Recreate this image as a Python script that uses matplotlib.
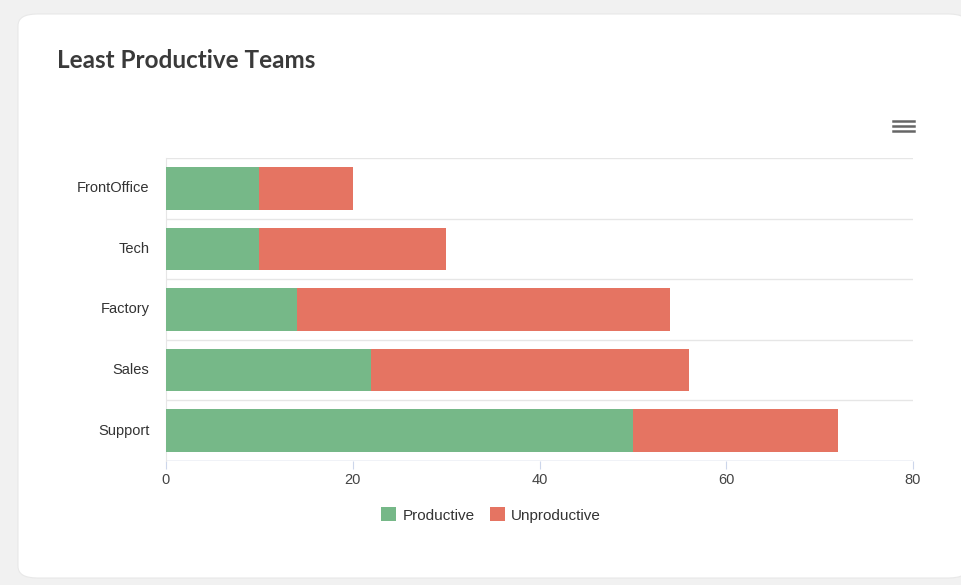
import matplotlib
matplotlib.use("Agg")
import matplotlib.pyplot as plt
from matplotlib.patches import FancyBboxPatch, Patch

# data
teams = ["FrontOffice", "Tech", "Factory", "Sales", "Support"]
productive = [10, 10, 14, 22, 50]
unproductive = [10, 20, 40, 34, 22]
xticks = [0, 20, 40, 60, 80]

green = "#76b888"
red = "#e57462"
text_col = "#333333"
grid_col = "#e6e6e6"

plt.rcParams["font.family"] = ["Liberation Sans", "DejaVu Sans"]

fig = plt.figure(figsize=(9.62, 5.85), dpi=100)
fig.patch.set_facecolor("#f1f1f1")

# white card behind everything
card = FancyBboxPatch((18 / 962, 7 / 585), 950 / 962, 564 / 585,
                      boxstyle="round,pad=0,rounding_size=0.02",
                      transform=fig.transFigure, facecolor="white",
                      edgecolor="#e8e8e8", linewidth=0.8, zorder=-5)
fig.patches.append(card)

ax = fig.add_axes([166 / 962, 1 - 461 / 585, (913 - 166) / 962, (461 - 158) / 585])
ax.set_facecolor("none")
ax.set_zorder(2)

y = list(range(len(teams)))
ax.barh(y, productive, height=0.7, color=green, label="Productive", zorder=3)
ax.barh(y, unproductive, left=productive, height=0.7, color=red,
        label="Unproductive", zorder=3)

ax.set_ylim(len(teams) - 0.5, -0.5)
ax.set_xlim(0, 80)
ax.set_xticks(xticks)
ax.set_yticks(y)
ax.set_yticklabels(teams)

# horizontal separators between categories
for b in [i - 0.5 for i in range(len(teams) + 1)]:
    ax.axhline(b, color=grid_col, linewidth=1, zorder=1)

for s in ["top", "right", "bottom"]:
    ax.spines[s].set_visible(False)
ax.spines["left"].set_color(grid_col)
ax.axhline(len(teams) - 0.5, color="#ccd6eb", linewidth=1, zorder=2)

ax.tick_params(axis="y", length=0, pad=12, labelsize=10.5, labelcolor=text_col)
ax.tick_params(axis="x", length=6, color="#ccd6eb", pad=3, labelsize=10.5,
               labelcolor="#444444")
for lab in ax.get_yticklabels():
    lab.set_verticalalignment("center")

fig.text(57 / 962, 1 - 60 / 585, "Least Productive Teams", fontsize=17.5,
         fontweight="bold", color="#3a3a3a", va="center", ha="left",
         family=["Lato", "DejaVu Sans"])

# hamburger menu icon
for dy in [-5, 0, 5]:
    fig.add_artist(plt.Line2D([893 / 962, 914 / 962],
                              [1 - (126 + dy) / 585] * 2,
                              color="#666666", linewidth=1.8))

handles = [Patch(facecolor=green, label="Productive"),
           Patch(facecolor=red, label="Unproductive")]
fig.legend(handles=handles, loc="center", bbox_to_anchor=(491 / 962, 1 - 515 / 585),
           ncol=2, frameon=False, fontsize=11, handlelength=1.0, handleheight=1.0,
           handletextpad=0.4, columnspacing=1.0, labelcolor=text_col)

fig.savefig("out.png", dpi=100, facecolor=fig.get_facecolor())
